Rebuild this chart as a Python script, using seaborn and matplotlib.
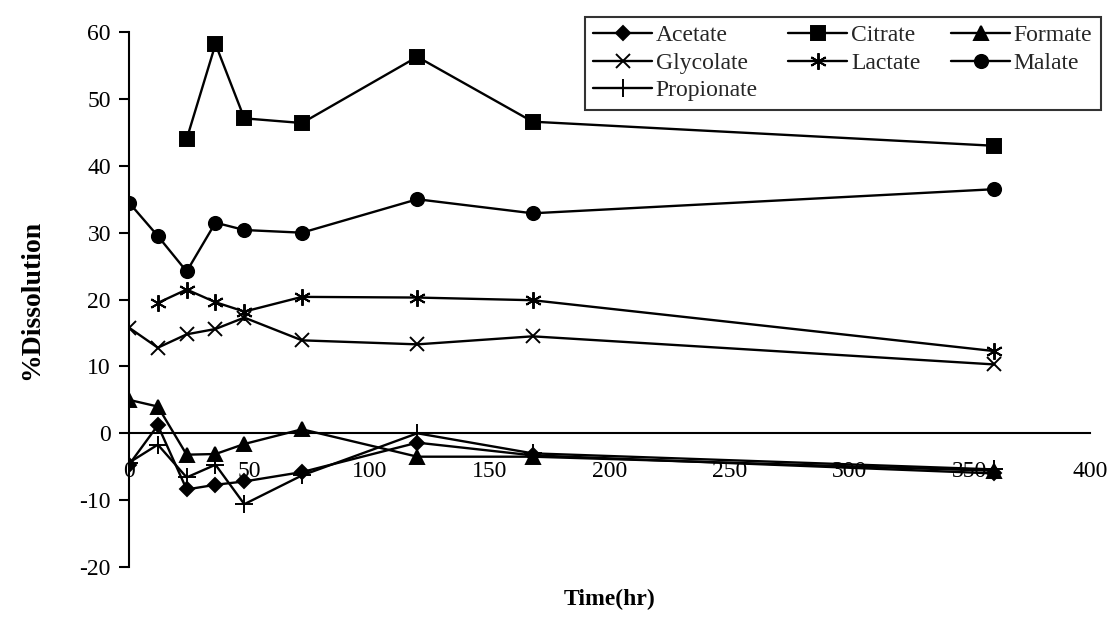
import numpy as np
import pandas as pd
import matplotlib
matplotlib.use("Agg")
import matplotlib.pyplot as plt
import seaborn as sns

# Sampling times (hours)
times = [0, 12, 24, 36, 48, 72, 120, 168, 360]

acetate = [-4.7, 1.2, -8.4, -7.7, -7.2, -5.8, -1.4, -3.3, -6.0]
citrate_times = [24, 36, 48, 72, 120, 168, 360]
citrate = [44.0, 58.2, 47.1, 46.4, 56.3, 46.6, 43.0]
formate = [5.0, 4.0, -3.2, -3.1, -1.6, 0.6, -3.5, -3.5, -5.6]
glycolate = [15.8, 12.8, 14.8, 15.6, 17.3, 13.9, 13.3, 14.5, 10.3]
lactate_times = [12, 24, 36, 48, 72, 120, 168, 360]
lactate = [19.5, 21.5, 19.6, 18.2, 20.4, 20.3, 19.9, 12.3]
malate = [34.5, 29.5, 24.2, 31.5, 30.4, 30.0, 35.0, 32.9, 36.5]
propionate = [-4.4, -1.7, -6.6, -4.7, -10.6, -6.3, 0.0, -3.0, -5.4]

series_order = ["Acetate", "Citrate", "Formate", "Glycolate",
                "Lactate", "Malate", "Propionate"]

frames = []
for name, tt, vals in [
    ("Acetate", times, acetate),
    ("Citrate", citrate_times, citrate),
    ("Formate", times, formate),
    ("Glycolate", times, glycolate),
    ("Lactate", lactate_times, lactate),
    ("Malate", times, malate),
    ("Propionate", times, propionate),
]:
    frames.append(pd.DataFrame({"Time": tt, "Dissolution": vals, "Acid": name}))
df = pd.concat(frames, ignore_index=True)

sns.set_theme(style="white")
plt.rcParams["font.family"] = ["Liberation Serif", "DejaVu Serif"]
plt.rcParams["axes.unicode_minus"] = False

fig = plt.figure(figsize=(11.15, 6.17), dpi=100)
ax = fig.add_axes([0.1157, 0.081, 0.8619, 0.867])

markers = {
    "Acetate": "D",
    "Citrate": "s",
    "Formate": "^",
    "Glycolate": "x",
    "Lactate": (6, 2, 0),
    "Malate": "o",
    "Propionate": "+",
}
sizes = {"Acetate": 7.5, "Citrate": 9.5, "Formate": 9.5, "Glycolate": 10,
         "Lactate": 12, "Malate": 9.5, "Propionate": 13}

for name in series_order:
    sub = df[df["Acid"] == name]
    sns.lineplot(data=sub, x="Time", y="Dissolution", ax=ax,
                 color="black", linewidth=1.7, marker=markers[name],
                 markersize=sizes[name], markeredgecolor="black",
                 markerfacecolor="black", markeredgewidth=1.4,
                 estimator=None, sort=False, label=name)

ax.set_xlim(0, 400)
ax.set_ylim(-20, 60)
ax.set_xticks(np.arange(0, 401, 50))
ax.set_yticks(np.arange(-20, 61, 10))

for side in ["top", "right"]:
    ax.spines[side].set_visible(False)
ax.spines["bottom"].set_position(("data", 0))
for side in ["bottom", "left"]:
    ax.spines[side].set_color("black")
    ax.spines[side].set_linewidth(1.5)

ax.tick_params(axis="x", direction="inout", length=14, width=1.5,
               pad=13, labelsize=17, colors="black")
ax.tick_params(axis="y", direction="out", length=7, width=1.5,
               pad=6, labelsize=17, colors="black", left=True)

ax.set_xlabel("Time(hr)", fontsize=17, fontweight="bold", color="black")
ax.set_ylabel("%Dissolution", fontsize=20, fontweight="bold", color="black")
ax.xaxis.set_label_coords(0.5, -0.04)
ax.yaxis.set_label_coords(-0.088, 0.5)

# Legend laid out row by row across three columns
handles, labels = ax.get_legend_handles_labels()
lookup = dict(zip(labels, handles))
col_order = ["Acetate", "Glycolate", "Propionate", "Citrate", "Lactate",
             "Formate", "Malate"]
if ax.get_legend():
    ax.get_legend().remove()
leg = fig.legend([lookup[n] for n in col_order], col_order, ncol=3,
                 loc="upper right", bbox_to_anchor=(0.987, 0.973),
                 borderaxespad=0,
                 frameon=True, fancybox=False, edgecolor="black",
                 fontsize=17, handlelength=2.5, handletextpad=0.15,
                 columnspacing=1.3, labelspacing=0.25, borderpad=0.35)
leg.get_frame().set_linewidth(1.5)

fig.savefig("out.png", dpi=100)
